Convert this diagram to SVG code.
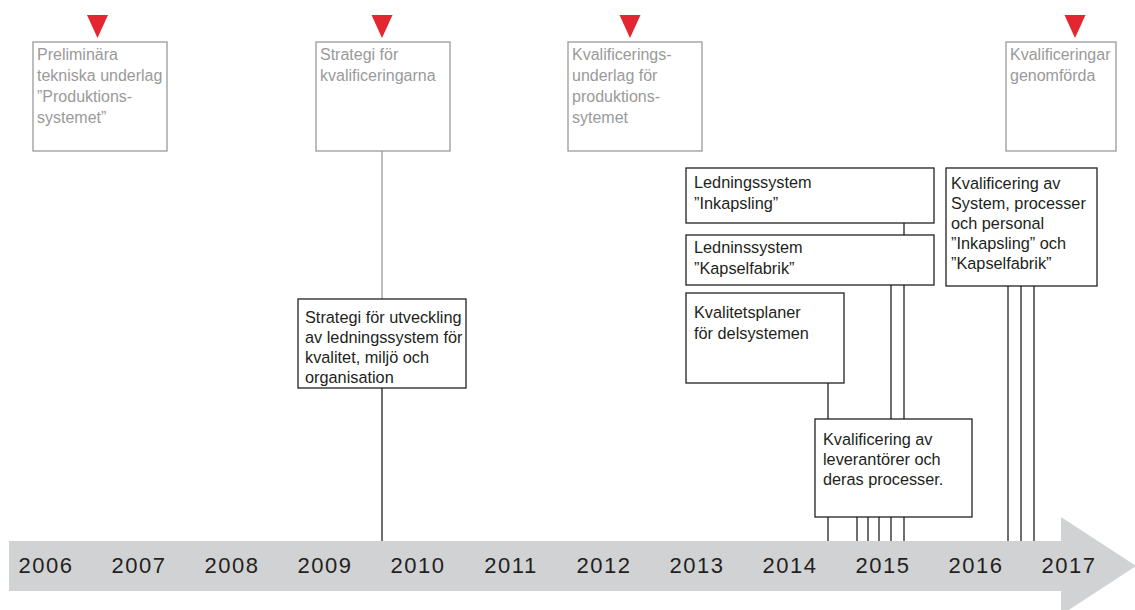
<svg xmlns="http://www.w3.org/2000/svg" width="1135" height="610" viewBox="0 0 1135 610">
  <style>
    text { font-family: "Liberation Sans", Arial, Helvetica, sans-serif; font-size: 16px; }
    .dark { fill: #231f20; font-size: 16.3px; }
    .muted { fill: #9a9a9a; }
    .year { font-size: 22px; fill: #231f20; letter-spacing: 1.5px; text-anchor: middle; }
    .box { fill: #ffffff; stroke: #231f20; stroke-width: 1.3; }
    .gbox { fill: #ffffff; stroke: #9a9a9a; stroke-width: 1.3; }
    .link { stroke: #231f20; stroke-width: 1.3; fill: none; }
    .glink { stroke: #9a9a9a; stroke-width: 1.3; fill: none; }
    .mark { fill: #e3262f; }
  </style>
  <defs>
    <polygon id="milestone" points="-10.5,15 10.5,15 0,38"/>
  </defs>

  <!-- time axis -->
  <g id="axis">
    <polygon points="9,541 1061,541 1061,517 1136,566 1061,615 1061,591 9,591" fill="#d1d2d4"/>
    <text class="year" x="46" y="573">2006</text>
    <text class="year" x="139" y="573">2007</text>
    <text class="year" x="232" y="573">2008</text>
    <text class="year" x="325" y="573">2009</text>
    <text class="year" x="418" y="573">2010</text>
    <text class="year" x="511" y="573">2011</text>
    <text class="year" x="604" y="573">2012</text>
    <text class="year" x="697" y="573">2013</text>
    <text class="year" x="790" y="573">2014</text>
    <text class="year" x="883" y="573">2015</text>
    <text class="year" x="976" y="573">2016</text>
    <text class="year" x="1069" y="573">2017</text>
  </g>

  <!-- connectors -->
  <g id="connectors">
    <line class="glink" x1="382" y1="151" x2="382" y2="299"/>
    <line class="link" x1="382" y1="388" x2="382" y2="541"/>
    <line class="link" x1="904" y1="223" x2="904" y2="235"/>
    <line class="link" x1="891" y1="285" x2="891" y2="419"/>
    <line class="link" x1="904" y1="285" x2="904" y2="419"/>
    <line class="link" x1="828" y1="383" x2="828" y2="419"/>
    <line class="link" x1="828" y1="517" x2="828" y2="541"/>
    <line class="link" x1="857" y1="517" x2="857" y2="541"/>
    <line class="link" x1="868" y1="517" x2="868" y2="541"/>
    <line class="link" x1="879" y1="517" x2="879" y2="541"/>
    <line class="link" x1="891" y1="517" x2="891" y2="541"/>
    <line class="link" x1="904" y1="517" x2="904" y2="541"/>
    <line class="link" x1="1008" y1="286" x2="1008" y2="541"/>
    <line class="link" x1="1021" y1="286" x2="1021" y2="541"/>
    <line class="link" x1="1034" y1="286" x2="1034" y2="541"/>
  </g>

  <!-- milestones -->
  <g id="milestone-underlag">
    <use href="#milestone" class="mark" x="97.5" y="0"/>
    <rect class="gbox" x="33" y="42" width="134" height="109"/>
    <text class="muted" x="37" y="60">Preliminära</text>
    <text class="muted" x="37" y="81">tekniska underlag</text>
    <text class="muted" x="37" y="102">”Produktions-</text>
    <text class="muted" x="37" y="123">systemet”</text>
  </g>

  <g id="milestone-strategi">
    <use href="#milestone" class="mark" x="382" y="0"/>
    <rect class="gbox" x="316" y="42" width="134" height="109"/>
    <text class="muted" x="320" y="60">Strategi för</text>
    <text class="muted" x="320" y="81">kvalificeringarna</text>
  </g>

  <g id="milestone-kvalificeringsunderlag">
    <use href="#milestone" class="mark" x="630" y="0"/>
    <rect class="gbox" x="568" y="42" width="134" height="109"/>
    <text class="muted" x="572" y="60">Kvalificerings-</text>
    <text class="muted" x="572" y="81">underlag för</text>
    <text class="muted" x="572" y="102">produktions-</text>
    <text class="muted" x="572" y="123">sytemet</text>
  </g>

  <g id="milestone-genomforda">
    <use href="#milestone" class="mark" x="1075" y="0"/>
    <rect class="gbox" x="1006" y="42" width="110" height="109"/>
    <text class="muted" x="1010" y="60">Kvalificeringar</text>
    <text class="muted" x="1010" y="81">genomförda</text>
  </g>

  <!-- activities -->
  <g id="strategi-ledningssystem">
    <rect class="box" x="298" y="299" width="168" height="89"/>
    <text class="dark" x="305" y="323">Strategi för utveckling</text>
    <text class="dark" x="305" y="343">av ledningssystem för</text>
    <text class="dark" x="305" y="363">kvalitet, miljö och</text>
    <text class="dark" x="305" y="383">organisation</text>
  </g>

  <g id="ledningssystem-inkapsling">
    <rect class="box" x="686" y="168" width="248" height="55"/>
    <text class="dark" x="694" y="188">Ledningssystem</text>
    <text class="dark" x="694" y="209">”Inkapsling”</text>
  </g>

  <g id="ledningssystem-kapselfabrik">
    <rect class="box" x="686" y="235" width="248" height="50"/>
    <text class="dark" x="694" y="253">Ledninssystem</text>
    <text class="dark" x="694" y="274">”Kapselfabrik”</text>
  </g>

  <g id="kvalitetsplaner">
    <rect class="box" x="686" y="293" width="158" height="90"/>
    <text class="dark" x="694" y="318">Kvalitetsplaner</text>
    <text class="dark" x="694" y="339">för delsystemen</text>
  </g>

  <g id="kvalificering-leverantorer">
    <rect class="box" x="815" y="419" width="157" height="98"/>
    <text class="dark" x="823" y="445">Kvalificering av</text>
    <text class="dark" x="823" y="465">leverantörer och</text>
    <text class="dark" x="823" y="485">deras processer.</text>
  </g>

  <g id="kvalificering-system">
    <rect class="box" x="946" y="168" width="151" height="118"/>
    <text class="dark" x="951" y="189">Kvalificering av</text>
    <text class="dark" x="951" y="209">System, processer</text>
    <text class="dark" x="951" y="229">och personal</text>
    <text class="dark" x="951" y="249">”Inkapsling” och</text>
    <text class="dark" x="951" y="269">”Kapselfabrik”</text>
  </g>
</svg>
